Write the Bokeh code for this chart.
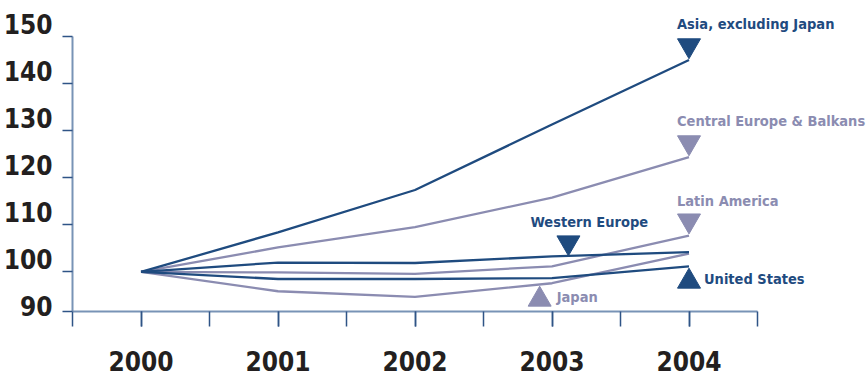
from bokeh.plotting import figure
from bokeh.models import FixedTicker, Range1d, ColumnDataSource
from bokeh.core.properties import value
from bokeh.embed import file_html
from bokeh.resources import INLINE

# ---- data ----
years = [2000, 2001, 2002, 2003, 2004]
asia = [100, 108.4, 117.4, 131.3, 145.0]
central_europe = [100, 105.2, 109.5, 115.8, 124.4]
latin_america = [100, 99.9, 99.6, 101.2, 107.7]
western_europe = [100, 102.0, 101.9, 103.3, 104.2]
united_states = [100, 98.5, 98.5, 98.7, 101.2]
japan = [100, 95.9, 94.7, 97.6, 103.9]

y_tick_values = [90, 100, 110, 120, 130, 140, 150]
x_tick_labels = ["2000", "2001", "2002", "2003", "2004"]

DARK = "#1f4b7f"
LIGHT = "#8b8cb1"
AXIS = "#7893b6"
TICK = "#2f5486"
FONT = "DejaVu Sans Condensed"

series = [
    # name, values, color, marker, marker x, marker y, label dx, label dy
    ("Asia, excluding Japan", asia, DARK, "inverted_triangle", 2004, 148.1, -12, -21),
    ("Central Europe & Balkans", central_europe, LIGHT, "inverted_triangle", 2004, 127.5, -12, -21),
    ("Latin America", latin_america, LIGHT, "inverted_triangle", 2004, 110.9, -12, -20),
    ("Western Europe", western_europe, DARK, "inverted_triangle", 2003.12, 106.25, -38, -21),
    ("United States", united_states, DARK, "triangle", 2004, 97.97, 15, -3),
    ("Japan", japan, LIGHT, "triangle", 2002.91, 94.15, 17, -2),
]

p = figure(width=866, height=381, output_backend="svg", toolbar_location=None,
           x_range=Range1d(1999.5, 2004.5), y_range=Range1d(91.6, 150),
           min_border_left=72, min_border_right=109, min_border_top=36,
           min_border_bottom=70)
p.outline_line_color = None
p.xgrid.visible = False
p.ygrid.visible = False
p.background_fill_color = "white"
p.border_fill_color = "white"

order = [1, 2, 5, 0, 3, 4]
for i in order:
    name, vals, col, mk, mx, my, dx, dy = series[i]
    p.line(years, vals, line_color=col, line_width=2.3)

lab_src = ColumnDataSource(dict(
    x=[s[4] for s in series], y=[s[5] for s in series],
    text=[s[0] for s in series], color=[s[2] for s in series],
    dx=[s[6] for s in series], dy=[s[7] for s in series],
))
for name, vals, col, mk, mx, my, dx, dy in series:
    p.scatter([mx], [my], marker=mk, size=23, fill_color=col, line_color=col)
p.text(x="x", y="y", text="text", source=lab_src, x_offset="dx", y_offset="dy",
       text_color="color", text_font=value(FONT), text_font_style="bold",
       text_font_size="14.5px", text_align="left", text_baseline="middle",
       level="overlay")

# y axis: tick marks only (labels drawn as text below)
ya = p.yaxis[0]
ya.ticker = FixedTicker(ticks=[], minor_ticks=[91.6] + y_tick_values[1:])
ya.major_tick_out = 0
ya.major_tick_in = 0
ya.minor_tick_out = 10
ya.minor_tick_in = 0
ya.axis_line_color = AXIS
ya.axis_line_width = 2
ya.minor_tick_line_color = TICK
ya.minor_tick_line_width = 1.5

ytl_src = ColumnDataSource(dict(x=[1999.5] * len(y_tick_values), y=y_tick_values,
                                text=[str(v) for v in y_tick_values]))
p.text(x="x", y="y", text="text", source=ytl_src, x_offset=-20, y_offset=-13,
       text_color="#231f20", text_font=value(FONT), text_font_style="bold",
       text_font_size="26px", text_align="right", text_baseline="middle",
       level="overlay")

# x axis
xa = p.xaxis[0]
xa.ticker = FixedTicker(ticks=years,
                        minor_ticks=[1999.5 + 0.5 * k for k in range(11)])
xa.major_label_overrides = {y: lab for y, lab in zip(years, x_tick_labels)}
xa.major_label_text_font = FONT
xa.major_label_text_font_style = "bold"
xa.major_label_text_font_size = "26px"
xa.major_label_text_color = "#231f20"
xa.major_label_standoff = 24
xa.major_tick_out = 15
xa.major_tick_in = 0
xa.minor_tick_out = 15
xa.minor_tick_in = 0
xa.axis_line_color = AXIS
xa.axis_line_width = 2
xa.major_tick_line_color = TICK
xa.major_tick_line_width = 1.5
xa.minor_tick_line_color = TICK
xa.minor_tick_line_width = 1.5

open("out.html", "w").write(file_html(p, INLINE))
